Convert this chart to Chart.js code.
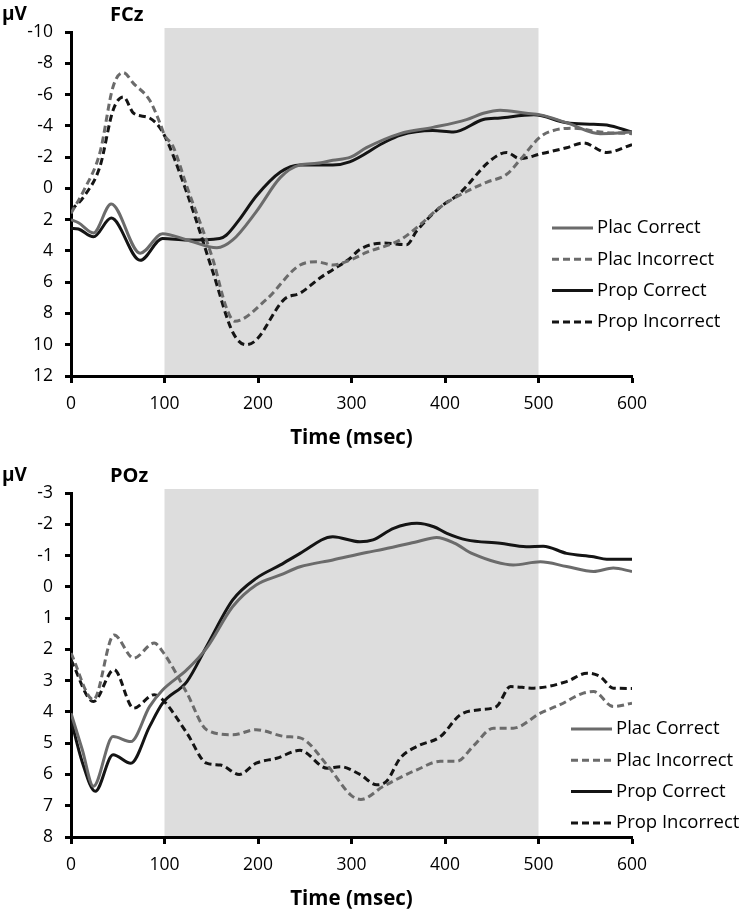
<!DOCTYPE html>
<html>
<head>
<meta charset="utf-8">
<script src="https://cdn.jsdelivr.net/npm/chart.js@4/dist/chart.umd.min.js"></script>
<style>
  html, body { margin: 0; padding: 0; background: #fff; overflow: hidden; }
  .box { position: relative; width: 742px; height: 461px; }
</style>
</head>
<body>
<div class="box"><canvas id="fcz"></canvas></div>
<div class="box"><canvas id="poz"></canvas></div>
<script>
// [time (msec), amplitude (uV)]
const fczPlacCorrect = [[0,2.0],[8,2.2],[24,2.85],[43,1.0],[74,4.15],[98,2.9],[124,3.3],[156,3.8],[173,3.3],[198,1.5],[224,-0.7],[245,-1.5],[263,-1.6],[280,-1.8],[299,-2.0],[316,-2.6],[352,-3.5],[387,-3.9],[423,-4.4],[441,-4.8],[459,-5.0],[487,-4.8],[502,-4.7],[530,-4.2],[566,-3.5],[600,-3.6]];
const fczPlacIncorrect = [[0,1.6],[14,0.1],[31,-2.3],[45,-6.5],[56,-7.4],[67,-6.7],[84,-5.65],[95,-4.2],[100,-3.4],[109,-2.7],[124,-0.1],[152,4.6],[166,7.6],[175,8.5],[209,7.1],[245,4.9],[263,4.7],[280,4.9],[298,4.6],[316,4.1],[352,3.3],[370,2.5],[395,1.2],[423,0.2],[445,-0.4],[466,-0.9],[480,-1.8],[502,-3.3],[516,-3.7],[537,-3.85],[566,-3.6],[600,-3.5]];
const fczPropCorrect = [[0,2.55],[8,2.6],[24,3.1],[43,1.9],[74,4.6],[98,3.2],[124,3.3],[159,3.2],[166,3.0],[180,2.0],[198,0.5],[224,-1.05],[245,-1.5],[280,-1.5],[298,-1.7],[334,-2.9],[352,-3.4],[387,-3.7],[409,-3.6],[441,-4.4],[459,-4.5],[495,-4.7],[530,-4.2],[559,-4.1],[573,-4.05],[600,-3.6]];
const fczPropIncorrect = [[0,1.4],[14,0.5],[31,-1.4],[45,-5.0],[56,-5.85],[67,-4.8],[84,-4.5],[98,-3.6],[124,0.3],[152,5.4],[173,9.2],[187,10.0],[198,9.7],[228,7.1],[245,6.7],[267,5.7],[280,5.2],[298,4.5],[309,3.9],[334,3.5],[359,3.6],[370,2.7],[395,1.2],[416,0.3],[445,-1.6],[459,-2.2],[466,-2.3],[480,-1.9],[502,-2.2],[530,-2.6],[548,-2.9],[573,-2.3],[600,-2.8]];

const pozPlacCorrect = [[0,4.04],[12,5.2],[24,6.38],[45,4.79],[64,4.95],[84,3.83],[98,3.3],[124,2.65],[145,1.96],[173,0.63],[198,-0.06],[224,-0.38],[245,-0.64],[280,-0.86],[316,-1.1],[334,-1.2],[370,-1.44],[391,-1.58],[410,-1.4],[430,-1.05],[473,-0.7],[502,-0.8],[530,-0.65],[559,-0.49],[580,-0.6],[600,-0.49]];
const pozPlacIncorrect = [[0,2.12],[24,3.61],[46,1.54],[67,2.28],[89,1.8],[98,2.07],[124,3.4],[145,4.57],[173,4.73],[198,4.57],[230,4.79],[245,4.83],[275,5.74],[299,6.65],[310,6.8],[334,6.38],[352,6.1],[370,5.85],[395,5.58],[413,5.58],[430,5.1],[452,4.52],[473,4.52],[502,4.04],[523,3.77],[548,3.4],[559,3.35],[580,3.83],[600,3.72]];
const pozPropCorrect = [[0,4.25],[12,5.6],[26,6.54],[45,5.37],[64,5.64],[84,4.47],[98,3.72],[124,3.03],[145,1.91],[173,0.42],[198,-0.27],[224,-0.7],[245,-1.07],[280,-1.6],[309,-1.44],[323,-1.5],[345,-1.87],[370,-2.03],[388,-1.92],[402,-1.71],[423,-1.5],[459,-1.39],[487,-1.28],[505,-1.3],[530,-1.07],[559,-0.96],[573,-0.88],[600,-0.88]];
const pozPropIncorrect = [[0,2.34],[24,3.67],[46,2.65],[67,3.88],[89,3.45],[98,3.61],[124,4.68],[145,5.64],[160,5.7],[180,6.0],[198,5.64],[220,5.48],[245,5.23],[274,5.8],[288,5.75],[309,6.0],[327,6.33],[338,6.2],[352,5.48],[370,5.1],[395,4.79],[416,4.1],[437,3.93],[455,3.83],[470,3.19],[495,3.24],[530,3.03],[552,2.76],[566,2.87],[580,3.24],[600,3.25]];

const seriesNames = ['Plac Correct', 'Plac Incorrect', 'Prop Correct', 'Prop Incorrect'];
const timeTicks = { min: 0, max: 600, step: 100 };
const windowRange = [100, 500];   // shaded analysis window

const GRAY = '#6b6b6b', BLACK = '#141414';
const FONT = "'Open Sans', 'DejaVu Sans', sans-serif";

function makeDatasets(series) {
  const styles = [
    { color: GRAY, dash: [] },
    { color: GRAY, dash: [7, 4] },
    { color: BLACK, dash: [] },
    { color: BLACK, dash: [7, 4] }
  ];
  return series.map((pts, i) => ({
    label: seriesNames[i],
    data: pts.map(([x, y]) => ({ x, y })),
    borderColor: styles[i].color,
    borderDash: styles[i].dash,
    borderWidth: 3,
    pointRadius: 0,
    cubicInterpolationMode: 'monotone',
    fill: false
  }));
}

// grey box behind the curves for the analysis window
const shadePlugin = {
  id: 'shade',
  beforeDraw(chart) {
    const { ctx, chartArea, scales } = chart;
    const x0 = scales.x.getPixelForValue(windowRange[0]);
    const x1 = scales.x.getPixelForValue(windowRange[1]);
    ctx.save();
    ctx.fillStyle = '#dddddd';
    ctx.fillRect(x0, chartArea.top - 4, x1 - x0, chartArea.bottom - chartArea.top + 4);
    ctx.restore();
  }
};

function labelsPlugin(site, legendX, legendY) {
  return {
    id: 'labels_' + site,
    afterDraw(chart) {
      const ctx = chart.ctx;
      ctx.save();
      ctx.fillStyle = '#000';
      ctx.textBaseline = 'middle';
      ctx.font = `bold 19px ${FONT}`;
      ctx.fillText('\u03bcV', 2, 15);
      ctx.font = `bold 20px ${FONT}`;
      ctx.fillText(site, 110, 15);
      // legend
      ctx.font = `18.5px ${FONT}`;
      chart.data.datasets.forEach((ds, i) => {
        const y = legendY + i * 31.3;
        ctx.strokeStyle = ds.borderColor;
        ctx.lineWidth = 3;
        ctx.setLineDash(ds.borderDash);
        ctx.beginPath();
        ctx.moveTo(legendX, y);
        ctx.lineTo(legendX + 41, y);
        ctx.stroke();
        ctx.setLineDash([]);
        ctx.fillText(ds.label, legendX + 45, y);
      });
      ctx.restore();
    }
  };
}

function makeChart(id, site, series, yMin, yMax, yStep, legendX, legendY) {
  return new Chart(document.getElementById(id), {
    type: 'line',
    data: { datasets: makeDatasets(series) },
    options: {
      responsive: true,
      maintainAspectRatio: false,
      animation: false,
      layout: { padding: { top: 32, right: 110, left: 0, bottom: 0 } },
      plugins: { legend: { display: false }, tooltip: { enabled: false } },
      scales: {
        x: {
          type: 'linear',
          min: timeTicks.min, max: timeTicks.max,
          ticks: { stepSize: timeTicks.step, color: '#000', font: { family: FONT, size: 17.5 }, padding: 11 },
          grid: { drawOnChartArea: false, tickLength: 7, tickWidth: 3, tickColor: '#000' },
          border: { color: '#000', width: 3 },
          title: { display: true, text: 'Time (msec)', color: '#000', font: { family: FONT, size: 20.5, weight: 'bold' }, padding: { bottom: 11 } },
          afterFit(scale) { scale.height = 85; }
        },
        y: {
          reverse: true,
          min: yMin, max: yMax,
          ticks: { stepSize: yStep, color: '#000', font: { family: FONT, size: 17.5 }, padding: 12 },
          grid: { drawOnChartArea: false, tickLength: 6, tickWidth: 3, tickColor: '#000' },
          border: { color: '#000', width: 3 },
          afterFit(scale) { scale.width = 71; }
        }
      }
    },
    plugins: [shadePlugin, labelsPlugin(site, legendX, legendY)]
  });
}

makeChart('fcz', 'FCz', [fczPlacCorrect, fczPlacIncorrect, fczPropCorrect, fczPropIncorrect], -10, 12, 2, 552, 228);
makeChart('poz', 'POz', [pozPlacCorrect, pozPlacIncorrect, pozPropCorrect, pozPropIncorrect], -3, 8, 1, 571, 268);
</script>
</body>
</html>
